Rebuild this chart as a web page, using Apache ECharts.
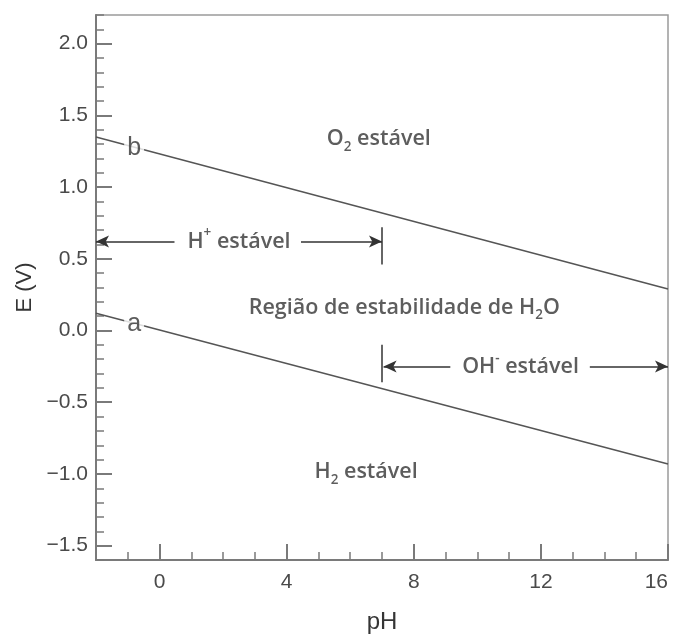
<!DOCTYPE html>
<html><head><meta charset="utf-8">
<script src="https://cdn.jsdelivr.net/npm/echarts@6/dist/echarts.min.js"></script>
<style>html,body{margin:0;padding:0;background:#fff}#c{width:673px;height:634px}</style>
</head><body><div id="c"></div>
<script>
// ---- data ----
const pHEnds = [-2, 16];          // pH at the two ends of each line
const lineA = [0.12, -0.93];      // E (V) of line a at pH -2 and 16
const lineB = [1.35, 0.29];       // E (V) of line b at pH -2 and 16
const xMajor = [0, 4, 8, 12, 16];
const yMajor = [-1.5, -1.0, -0.5, 0.0, 0.5, 1.0, 1.5, 2.0];
const xRange = [-2, 16];
const yRange = [-1.6, 2.2];

const axisColor = '#7a7a7a';
const txt = '#353535';
const tf = 'Open Sans';

function fmtY(v) {
  if (Math.abs(v * 2 - Math.round(v * 2)) > 1e-6) return '';
  const s = Math.abs(v).toFixed(1);
  return (v < -1e-9 ? '\u2212' : '') + s;
}

const chart = echarts.init(document.getElementById('c'));
const base = { fontFamily: tf, color: txt, fontWeight: 600, lineHeight: 30 };
const rich = {
  n: Object.assign({ fontSize: 21.5, verticalAlign: 'middle' }, base),
  sub: Object.assign({ fontSize: 13.5, verticalAlign: 'bottom' }, base),
  sup: Object.assign({ fontSize: 13.5, verticalAlign: 'top' }, base)
};
function lab(x, y, text) {
  return { value: [x, y], label: { formatter: text } };
}
const arrowStyle = { color: '#333', width: 1.5, type: 'solid' };

chart.setOption({
  animation: false,
  backgroundColor: '#fff',
  grid: { left: 96, right: 5, top: 15, bottom: 74, show: true, borderColor: '#9a9a9a', borderWidth: 1.5,
          containLabel: false, outerBoundsMode: 'none' },
  xAxis: [
    {
      type: 'value', min: xRange[0], max: xRange[1], interval: 1, position: 'bottom',
      name: 'pH', nameLocation: 'middle', nameGap: 50,
      nameTextStyle: { fontFamily: 'Liberation Sans', fontSize: 24, color: txt },
      axisLine: { show: true, onZero: false, lineStyle: { color: axisColor, width: 2 } },
      axisTick: { show: true, inside: true, length: 8, lineStyle: { color: axisColor, width: 1.5 } },
      axisLabel: {
        fontFamily: 'Liberation Sans', fontSize: 21, color: '#4a4a4a', margin: 12,
        alignMaxLabel: 'right',
        formatter: v => (xMajor.indexOf(Math.round(v)) >= 0 && Math.abs(v - Math.round(v)) < 1e-6) ? String(Math.round(v)) : ''
      },
      splitLine: { show: false }
    },
    {
      type: 'value', min: xRange[0], max: xRange[1], position: 'bottom',
      axisLine: { show: false, onZero: false },
      axisTick: { show: true, inside: true, length: 16, customValues: xMajor, lineStyle: { color: axisColor, width: 2 } },
      axisLabel: { show: false },
      splitLine: { show: false }
    }
  ],
  yAxis: [
    {
      type: 'value', min: yRange[0], max: yRange[1], interval: 0.1, position: 'left',
      name: 'E (V)', nameLocation: 'middle', nameGap: 60, nameRotate: 90,
      nameTextStyle: { fontFamily: 'Liberation Sans', fontSize: 22, color: txt },
      axisLine: { show: true, onZero: false, lineStyle: { color: axisColor, width: 2 } },
      axisTick: { show: true, inside: true, length: 8, lineStyle: { color: axisColor, width: 1.5 } },
      axisLabel: { fontFamily: 'Liberation Sans', fontSize: 21, color: '#4a4a4a', margin: 8, formatter: fmtY },
      splitLine: { show: false }
    },
    {
      type: 'value', min: yRange[0], max: yRange[1], position: 'left',
      axisLine: { show: false, onZero: false },
      axisTick: { show: true, inside: true, length: 16, customValues: yMajor, lineStyle: { color: axisColor, width: 2 } },
      axisLabel: { show: false },
      splitLine: { show: false }
    }
  ],
  series: [
    {
      name: 'a', type: 'line', xAxisIndex: 0, yAxisIndex: 0, symbol: 'none',
      lineStyle: { color: '#555', width: 1.5 },
      data: pHEnds.map((p, i) => [p, lineA[i]]),
      markLine: {
        silent: true, animation: false,
        label: { show: false },
        lineStyle: arrowStyle,
        symbolSize: [9, 13],
        data: [
          [{ coord: [-2, 0.62], symbol: 'arrow' }, { coord: [0.47, 0.62], symbol: 'none' }],
          [{ coord: [4.45, 0.62], symbol: 'none' }, { coord: [7.0, 0.62], symbol: 'arrow' }],
          [{ coord: [7.0, 0.72], symbol: 'none' }, { coord: [7.0, 0.46], symbol: 'none' }],
          [{ coord: [7.05, -0.25], symbol: 'arrow' }, { coord: [9.15, -0.25], symbol: 'none' }],
          [{ coord: [13.54, -0.25], symbol: 'none' }, { coord: [16, -0.25], symbol: 'arrow' }],
          [{ coord: [7.0, -0.10], symbol: 'none' }, { coord: [7.0, -0.36], symbol: 'none' }]
        ]
      }
    },
    {
      name: 'b', type: 'line', xAxisIndex: 0, yAxisIndex: 0, symbol: 'none',
      lineStyle: { color: '#555', width: 1.5 },
      data: pHEnds.map((p, i) => [p, lineB[i]])
    },
    {
      name: 'letters', type: 'scatter', symbolSize: 1, silent: true, z: 5,
      itemStyle: { color: 'rgba(0,0,0,0)' },
      label: {
        show: true, position: 'inside', fontFamily: 'Liberation Sans', fontSize: 25, color: '#333',
        backgroundColor: '#fff', padding: [0, 3, 0, 3]
      },
      data: [lab(-0.8, 1.27, 'b'), lab(-0.8, 0.045, 'a')]
    },
    {
      name: 'texts', type: 'scatter', symbolSize: 1, silent: true, z: 5,
      itemStyle: { color: 'rgba(0,0,0,0)' },
      label: { show: true, position: 'inside', rich: rich },
      data: [
        lab(6.9, 1.335, '{n|O}{sub|2}{n| estável}'),
        lab(2.5, 0.62, '{n|H}{sup|+}{n| estável}'),
        lab(7.7, 0.16, '{n|Região de estabilidade de H}{sub|2}{n|O}'),
        lab(11.36, -0.25, '{n|OH}{sup|-}{n| estável}'),
        lab(6.5, -0.985, '{n|H}{sub|2}{n| estável}')
      ]
    }
  ]
});
</script>
</body></html>
